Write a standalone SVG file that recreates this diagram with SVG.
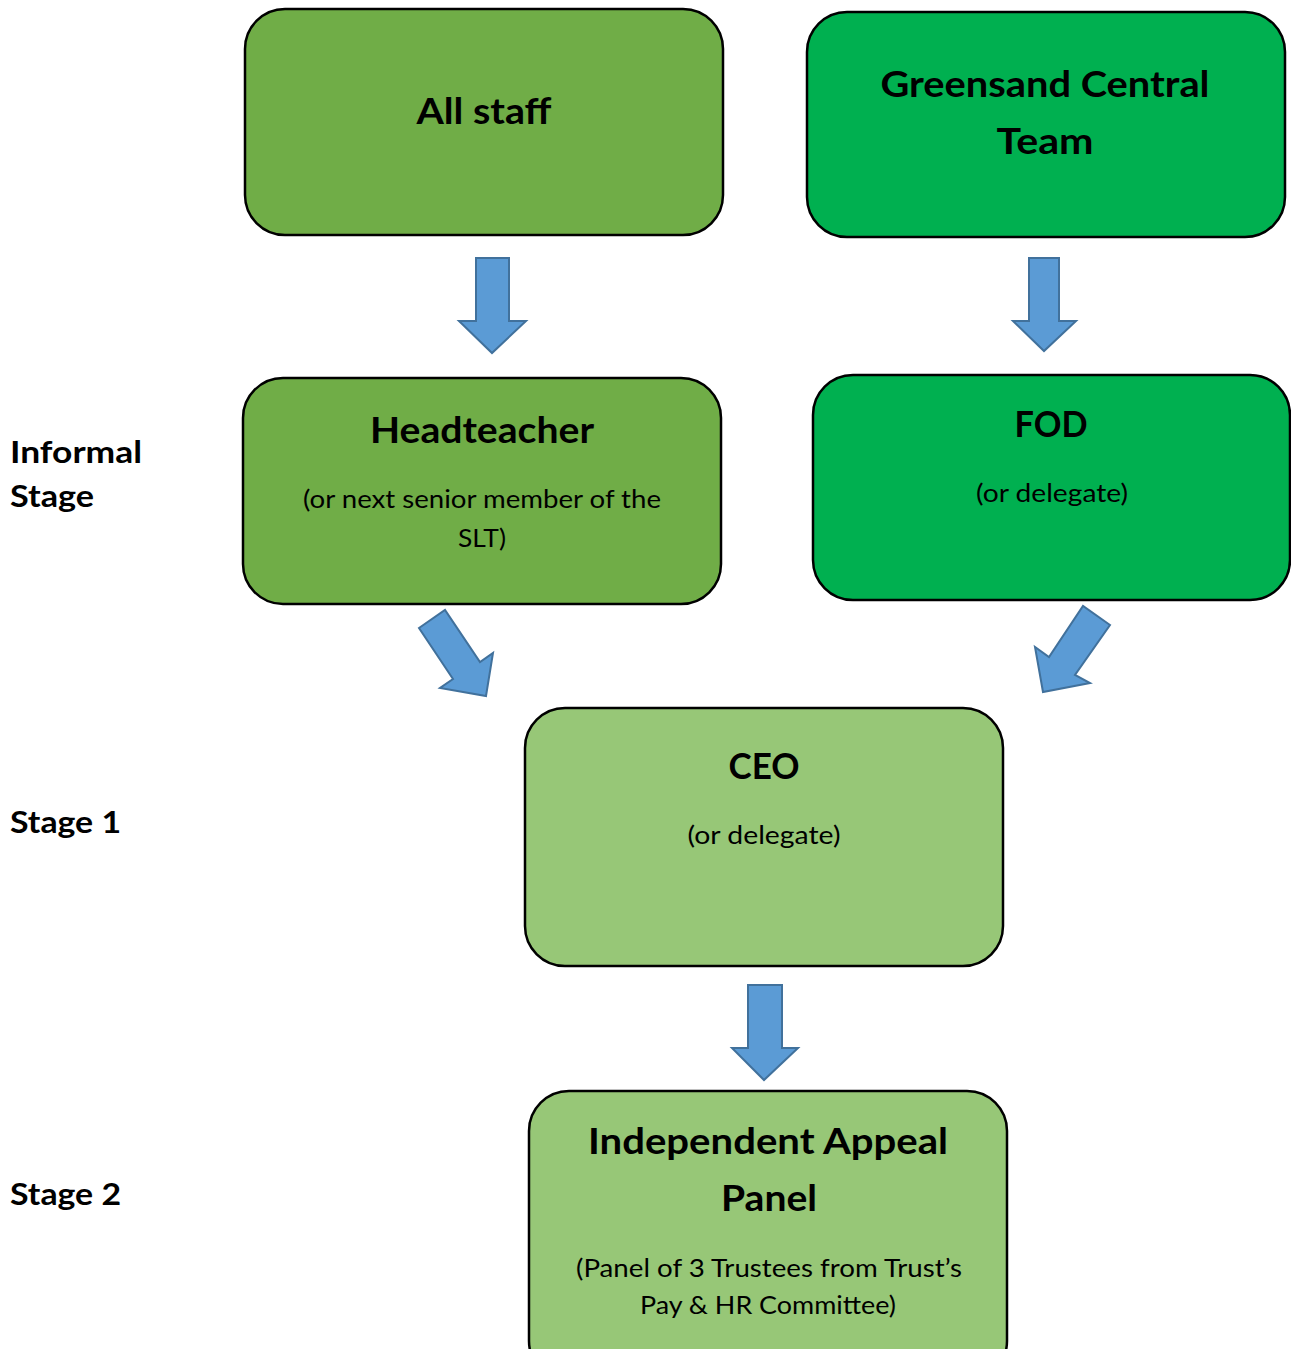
<svg xmlns="http://www.w3.org/2000/svg" width="1291" height="1349" viewBox="0 0 1291 1349">
<style>
.box{stroke:#000;stroke-width:2.5}
.g1{fill:#70AD47}
.g2{fill:#00B050}
.g3{fill:#97C777}
.t{font-family:Lato,"Open Sans","Liberation Sans",sans-serif;fill:#000;text-anchor:middle}
.h{font-weight:bold;font-size:36px}
.s{font-size:25px}
.l{font-family:Lato,"Open Sans","Liberation Sans",sans-serif;font-weight:bold;font-size:31px;fill:#000}
.arr{fill:#5B9BD5;stroke:#41719C;stroke-width:2}
</style>
<rect width="1291" height="1349" fill="#fff"/>
<g id="labels">
<text class="l" x="10" y="463" textLength="132" lengthAdjust="spacingAndGlyphs">Informal</text>
<text class="l" x="10" y="507" textLength="84" lengthAdjust="spacingAndGlyphs">Stage</text>
<text class="l" x="10" y="833" textLength="111" lengthAdjust="spacingAndGlyphs">Stage 1</text>
<text class="l" x="10" y="1205" textLength="111" lengthAdjust="spacingAndGlyphs">Stage 2</text>
</g>
<g id="all-staff">
<rect class="box g1" x="245" y="9" width="478" height="226" rx="40"/>
<text class="t h" x="484" y="124" textLength="135" lengthAdjust="spacingAndGlyphs">All staff</text>
</g>
<g id="greensand">
<rect class="box g2" x="807" y="12" width="478" height="225" rx="40"/>
<text class="t h" x="1045" y="97" textLength="329" lengthAdjust="spacingAndGlyphs">Greensand Central</text>
<text class="t h" x="1045" y="154" textLength="97" lengthAdjust="spacingAndGlyphs">Team</text>
</g>
<g id="headteacher">
<rect class="box g1" x="243" y="378" width="478" height="226" rx="40"/>
<text class="t h" x="482" y="443" textLength="224" lengthAdjust="spacingAndGlyphs">Headteacher</text>
<text class="t s" x="482" y="508" textLength="358" lengthAdjust="spacingAndGlyphs">(or next senior member of the</text>
<text class="t s" x="482" y="547" textLength="48" lengthAdjust="spacingAndGlyphs">SLT)</text>
</g>
<g id="fod">
<rect class="box g2" x="813" y="375" width="477" height="225" rx="40"/>
<text class="t h" x="1051" y="437" textLength="73" lengthAdjust="spacingAndGlyphs">FOD</text>
<text class="t s" x="1052" y="502" textLength="152" lengthAdjust="spacingAndGlyphs">(or delegate)</text>
</g>
<g id="ceo">
<rect class="box g3" x="525" y="708" width="478" height="258" rx="40"/>
<text class="t h" x="764" y="779" textLength="71" lengthAdjust="spacingAndGlyphs">CEO</text>
<text class="t s" x="764" y="844" textLength="153" lengthAdjust="spacingAndGlyphs">(or delegate)</text>
</g>
<g id="panel">
<rect class="box g3" x="529" y="1091" width="478" height="290" rx="40"/>
<text class="t h" x="768" y="1154" textLength="360" lengthAdjust="spacingAndGlyphs">Independent Appeal</text>
<text class="t h" x="769" y="1211" textLength="96" lengthAdjust="spacingAndGlyphs">Panel</text>
<text class="t s" x="769" y="1277" textLength="386" lengthAdjust="spacingAndGlyphs">(Panel of 3 Trustees from Trust’s</text>
<text class="t s" x="768" y="1314" textLength="256" lengthAdjust="spacingAndGlyphs">Pay &amp; HR Committee)</text>
</g>
<g id="connectors">
<polygon class="arr" points="476,258 509,258 509,321 526,321 492,353 459,321 476,321"/>
<polygon class="arr" points="1029,258 1059,258 1059,321 1076,321 1044,351 1013,321 1029,321"/>
<polygon class="arr" points="748,985 782,985 782,1048 798,1048 764,1080 732,1048 748,1048"/>
<polygon class="arr" points="419,628 445,610 480,662 493,653 486,696 440,688 453,679"/>
<polygon class="arr" points="1110,625 1083,606 1049,657 1035,647 1043,692 1090,683 1075,675"/>
</g>
</svg>
